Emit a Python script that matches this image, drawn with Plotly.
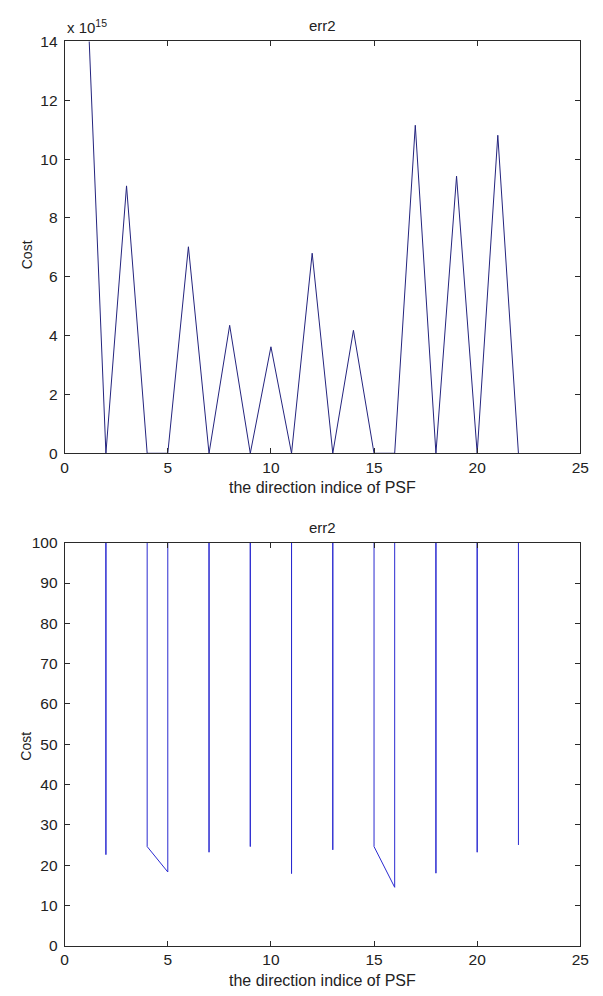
import plotly.graph_objects as go

# err2 cost for each PSF direction index (same series drawn twice)
direction_index = list(range(1, 23))
cost = [
    1.73e16, 22.6, 9.09e15, 24.6, 18.3, 7.02e15, 23.2, 4.35e15, 24.6, 3.62e15, 17.9,
    6.80e15, 23.8, 4.18e15, 24.6, 14.5, 11.15e15, 18.0, 9.42e15, 23.2, 10.81e15, 25.0,
]

x_ticks = [0, 5, 10, 15, 20, 25]
top_ticks = [0, 2e15, 4e15, 6e15, 8e15, 10e15, 12e15, 14e15]
top_tick_text = ["0", "2", "4", "6", "8", "10", "12", "14"]
bottom_ticks = [0, 10, 20, 30, 40, 50, 60, 70, 80, 90, 100]

W, H = 603, 996
FONT = "Arial, Liberation Sans, sans-serif"
AXIS_COLOR = "#2a2a2a"


def px_x(p):
    return p / W


def px_y(p):
    return (H - p) / H


fig = go.Figure()

fig.add_trace(go.Scatter(
    x=direction_index, y=cost, mode="lines",
    line=dict(color="#24247e", width=1), xaxis="x", yaxis="y",
))
fig.add_trace(go.Scatter(
    x=direction_index, y=cost, mode="lines",
    line=dict(color="#2a2ad0", width=1), xaxis="x2", yaxis="y2",
))

axis_common = dict(
    showgrid=False, zeroline=False, showline=True, linecolor=AXIS_COLOR,
    linewidth=1, mirror="ticks", ticks="inside", ticklen=5, tickcolor=AXIS_COLOR,
    tickfont=dict(family=FONT, size=15.5, color="#222"),
)

x_domain = [px_x(62), px_x(589)]

fig.update_layout(
    width=W, height=H, autosize=False,
    margin=dict(l=0, r=0, t=0, b=0),
    paper_bgcolor="white", plot_bgcolor="white",
    showlegend=False,
    xaxis=dict(domain=x_domain, range=[0, 25], tickvals=x_ticks, anchor="y", **axis_common),
    yaxis=dict(domain=[px_y(452), px_y(33)], range=[0, 14e15], tickvals=top_ticks,
               ticktext=top_tick_text, anchor="x", ticklabelstandoff=3, **axis_common),
    xaxis2=dict(domain=x_domain, range=[0, 25], tickvals=x_ticks, anchor="y2", **axis_common),
    yaxis2=dict(domain=[px_y(953), px_y(543)], range=[0, 100], tickvals=bottom_ticks,
                anchor="x2", ticklabelstandoff=3, **axis_common),
)

center_x = (px_x(62) + px_x(589)) / 2
label_font = dict(family=FONT, size=16, color="#222")
notes = [
    dict(text="err2", x=center_x, y=px_y(17), font=dict(family=FONT, size=15, color="#222")),
    dict(text="err2", x=center_x, y=px_y(528), font=dict(family=FONT, size=15, color="#222")),
    dict(text="the direction indice of PSF", x=center_x, y=px_y(487), font=label_font),
    dict(text="the direction indice of PSF", x=center_x, y=px_y(988), font=label_font),
    dict(text="Cost", x=px_x(23), y=px_y(250), textangle=-90,
         font=dict(family=FONT, size=14, color="#222")),
    dict(text="Cost", x=px_x(23), y=px_y(750), textangle=-90,
         font=dict(family=FONT, size=14, color="#222")),
    dict(text="x 10<sup>15</sup>", x=px_x(62), y=px_y(18), xanchor="left",
         font=dict(family=FONT, size=15, color="#222")),
]
for n in notes:
    n.setdefault("xanchor", "center")
    fig.add_annotation(xref="paper", yref="paper", yanchor="middle", showarrow=False, **n)

# drop the browser's default body margin so the figure sits at the page origin
fig.write_html(
    "out.html",
    config={"displayModeBar": False},
    post_script="document.body.style.margin='0';",
)
